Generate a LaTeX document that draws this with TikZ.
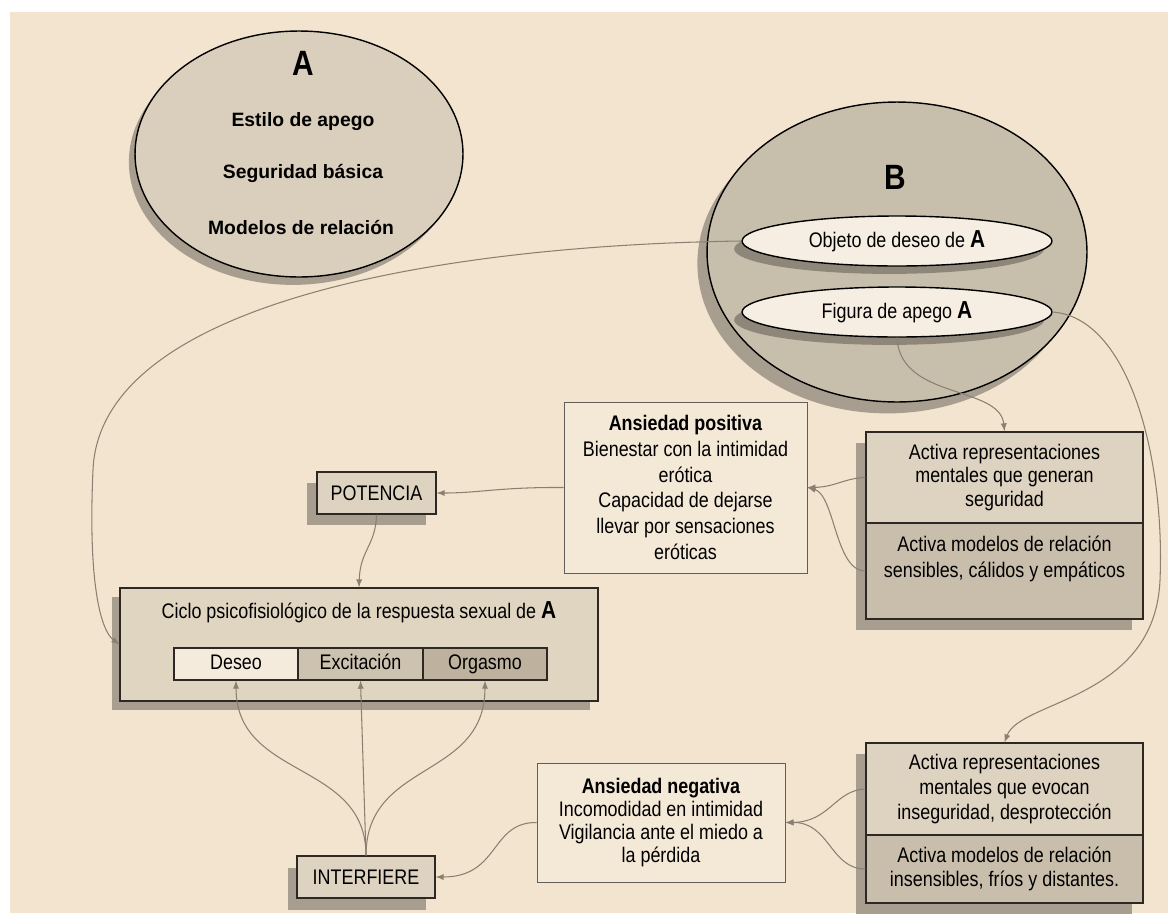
\documentclass[tikz,border=0pt]{standalone}
\usepackage{fontspec}
\setmainfont{Liberation Sans}[FakeStretch=0.85]
\newfontfamily\widefont{Liberation Sans}
\usepackage{xcolor}
\usetikzlibrary{shapes.geometric,shadows}

\definecolor{fondo}{RGB}{243,228,207}
\definecolor{ovalA}{RGB}{218,207,188}
\definecolor{ovalB}{RGB}{200,190,172}
\definecolor{claro}{RGB}{246,238,226}
\definecolor{sombra}{RGB}{168,158,143}
\definecolor{linea}{RGB}{138,128,113}
\definecolor{tono1}{RGB}{222,211,192}
\definecolor{tono2}{RGB}{201,190,171}
\definecolor{tono3}{RGB}{190,178,158}
\definecolor{borde}{RGB}{45,40,35}

\begin{document}
\begin{tikzpicture}[x=0.02cm, y=-0.02cm,
    conn/.style={draw=linea, line width=0.6pt, -latex},
    sombreado/.style={drop shadow={shadow xshift=-6pt, shadow yshift=-6pt, fill=sombra, opacity=1}},
    ovalo/.style={ellipse, draw=black, line width=0.8pt, inner sep=0pt},
    caja/.style={rectangle, draw=borde, line width=0.7pt, inner sep=2pt, align=center},
    celda/.style={caja, minimum height=0.64cm, inner sep=0pt, text height=9pt, text depth=2.5pt,
                  font=\fontsize{12}{14}\selectfont},
    texto/.style={font=\fontsize{12}{14}\selectfont, inner sep=0pt},
    negrita/.style={font=\widefont\fontsize{11}{13}\selectfont\bfseries, inner sep=0pt}]
  \useasboundingbox (0,0) rectangle (1172,913);
  \fill[white] (0,0) rectangle (1172,913);
  \fill[fondo] (10,12) rectangle (1168,913);

  % A
  \node[ovalo, fill=ovalA, minimum width=6.56cm, minimum height=4.92cm,
        drop shadow={shadow xshift=-3.5pt, shadow yshift=-4.5pt, fill=sombra, opacity=1}] (ovA) at (299,154) {};
  \node[font=\fontsize{20}{24}\selectfont\bfseries, inner sep=0pt] (letA) at (303,63) {A};
  \node[negrita] (estilo) at (303,122) {Estilo de apego};
  \node[negrita] (seguridad) at (303,173) {Seguridad básica};
  \node[negrita] (modelos) at (301,228) {Modelos de relación};

  % B
  \node[ovalo, fill=ovalB, minimum width=7.6cm, minimum height=6cm,
        drop shadow={shadow xshift=-5.5pt, shadow yshift=-6.5pt, fill=sombra, opacity=1}] (ovB) at (897,252) {};
  \node[font=\fontsize{20}{24}\selectfont\bfseries, inner sep=0pt] (letB) at (895,177) {B};
  \node[ovalo, fill=claro, minimum width=6.2cm, minimum height=1cm, font=\fontsize{12}{14}\selectfont,
        drop shadow={shadow xshift=-4.5pt, shadow yshift=-4.5pt, fill=sombra!85!black, opacity=1}] (objeto) at (897,241)
        {Objeto de deseo de {\fontsize{14}{16}\selectfont\bfseries A}};
  \node[ovalo, fill=claro, minimum width=6.2cm, minimum height=1cm, font=\fontsize{12}{14}\selectfont,
        drop shadow={shadow xshift=-4.5pt, shadow yshift=-4.5pt, fill=sombra!85!black, opacity=1}] (figura) at (897,312)
        {Figura de apego {\fontsize{14}{16}\selectfont\bfseries A}};

  % cajas de la derecha
  \node[caja, fill=tono1, minimum width=5.54cm, minimum height=1.82cm, sombreado,
        font=\fontsize{12}{13.5}\selectfont] (rpostop) at (1004.5,477.5)
        {Activa representaciones\\mentales que generan\\seguridad};
  \node[caja, fill=tono2, minimum width=5.54cm, minimum height=1.92cm, sombreado] (rposbot) at (1004.5,571) {};
  \node[texto, align=center, font=\fontsize{12}{15}\selectfont] (rposbottxt) at (1004.5,559)
        {Activa modelos de relación\\sensibles, cálidos y empáticos};
  \node[caja, fill=tono1, minimum width=5.54cm, minimum height=1.84cm, sombreado,
        font=\fontsize{12}{14}\selectfont] (rnegtop) at (1004.5,789)
        {Activa representaciones\\mentales que evocan\\inseguridad, desprotección};
  \node[caja, fill=tono2, minimum width=5.54cm, minimum height=1.36cm, sombreado,
        font=\fontsize{12}{14}\selectfont] (rnegbot) at (1004.5,869)
        {Activa modelos de relación\\insensibles, fríos y distantes.};

  % ansiedad
  \node[caja, draw=borde!75, line width=0.5pt, fill=claro!40!fondo, minimum width=4.86cm, minimum height=3.42cm,
        font=\fontsize{12}{14.6}\selectfont] (apos) at (685.5,487.5)
        {\textbf{Ansiedad positiva}\\Bienestar con la intimidad\\erótica\\Capacidad de dejarse\\llevar por sensaciones\\eróticas};
  \node[caja, draw=borde!75, line width=0.5pt, fill=claro!40!fondo, minimum width=4.96cm, minimum height=2.38cm,
        font=\fontsize{12}{13}\selectfont] (aneg) at (661,822.5)
        {\textbf{Ansiedad negativa}\\Incomodidad en intimidad\\Vigilancia ante el miedo a\\la pérdida};

  % POTENCIA / INTERFIERE
  \node[caja, fill=tono1, minimum width=2.38cm, minimum height=0.84cm, font=\fontsize{12}{14}\selectfont,
        drop shadow={shadow xshift=-5.5pt, shadow yshift=-6pt, fill=sombra, opacity=1}] (pot) at (376.5,493) {POTENCIA};
  \node[caja, fill=tono1, minimum width=2.76cm, minimum height=0.84cm, font=\fontsize{12}{14}\selectfont,
        drop shadow={shadow xshift=-5pt, shadow yshift=-7pt, fill=sombra, opacity=1}] (int) at (366,877) {INTERFIERE};

  % ciclo
  \node[caja, fill=tono1!90!fondo, minimum width=9.56cm, minimum height=2.26cm,
        drop shadow={shadow xshift=-4.5pt, shadow yshift=-5pt, fill=sombra, opacity=1}] (ciclo) at (359,644.5) {};
  \node[texto] (ciclotit) at (359,612)
        {Ciclo psicofisiológico de la respuesta sexual de {\fontsize{14}{16}\selectfont\bfseries A}};
  \node[celda, fill=claro!70!fondo, minimum width=2.48cm] (deseo) at (236,664) {Deseo};
  \node[celda, fill=tono2!80!tono1, minimum width=2.5cm] (exc) at (360.5,664) {Excitación};
  \node[celda, fill=tono3, minimum width=2.48cm] (org) at (485,664) {Orgasmo};

  % conectores
  \draw[conn] (objeto.west) .. controls (450,245) and (100,300) .. (93,470)
              .. controls (88,580) and (100,630) .. (ciclo.west);
  \draw[conn] (figura.east) .. controls (1130,318) and (1165,460) .. (1160,580)
              .. controls (1155,700) and (1020,700) .. (rnegtop.north);
  \draw[conn] (figura.south) .. controls (900,400) and (1000,385) .. (rpostop.north);
  \draw[conn] (rpostop.west) .. controls (845,478) and (835,487) .. (apos.east);
  \draw[conn] (rposbot.west) .. controls (835,571) and (835,495) .. (apos.east);
  \draw[conn] (apos.west) .. controls (500,487) and (480,493) .. (pot.east);
  \draw[conn] (pot.south) .. controls (376,545) and (360,550) .. (ciclo.north);
  \draw[conn] (rnegtop.west) .. controls (835,790) and (830,822) .. (aneg.east);
  \draw[conn] (rnegbot.west) .. controls (830,869) and (830,822) .. (aneg.east);
  \draw[conn] (aneg.west) .. controls (490,822) and (500,877) .. (int.east);
  \draw[conn] (int.north) .. controls (366,760) and (236,780) .. (deseo.south);
  \draw[conn] (int.north) -- (exc.south);
  \draw[conn] (int.north) .. controls (366,760) and (485,780) .. (org.south);
\end{tikzpicture}
\end{document}
